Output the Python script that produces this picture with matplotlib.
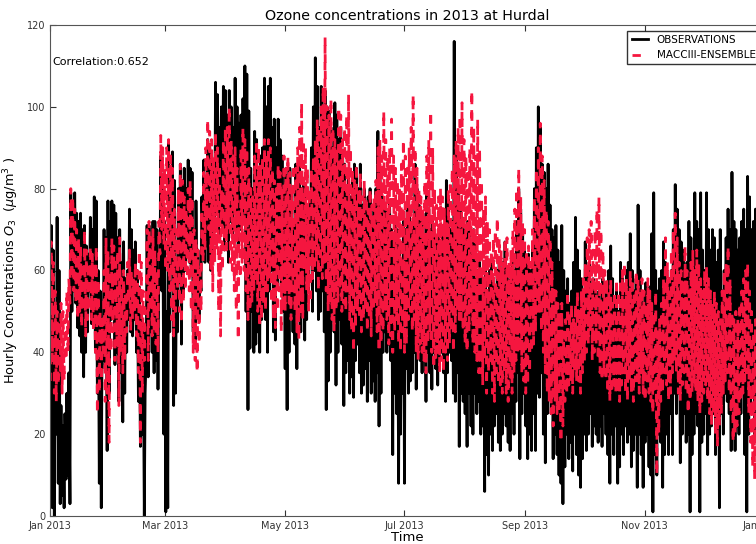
import matplotlib
matplotlib.use('Agg')
import matplotlib.pyplot as plt
import matplotlib.dates as mdates
import numpy as np
import pandas as pd

# daily maximum / minimum (ug/m3), one value per day of 2013
obs_hi = [71, 65, 45, 73, 60, 27, 22, 25, 30, 35,
          79, 76, 79, 74, 72, 74, 70, 71, 66, 64,
          73, 70, 78, 77, 60, 55, 45, 70, 68, 77,
          72, 77, 76, 74, 68, 70, 62, 67, 58, 60,
          75, 70, 65, 67, 60, 56, 50, 45, 30, 71,
          71, 68, 72, 72, 70, 60, 88, 80, 72, 50,
          91, 85, 89, 82, 60, 80, 86, 82, 85, 80,
          87, 85, 84, 70, 77, 65, 60, 78, 87, 82,
          92, 90, 88, 85, 106, 103, 95, 100, 105, 104,
          98, 104, 100, 95, 107, 100, 96, 98, 102, 110,
          108, 99, 85, 80, 94, 92, 85, 88, 90, 107,
          100, 105, 107, 95, 97, 90, 97, 92, 88, 80,
          85, 82, 85, 80, 72, 86, 84, 86, 80, 82,
          78, 75, 78, 90, 100, 112, 105, 95, 105, 100,
          104, 100, 99, 95, 90, 101, 98, 92, 95, 88,
          86, 80, 84, 78, 82, 86, 85, 80, 86, 76,
          80, 75, 78, 80, 72, 76, 80, 94, 85, 78,
          77, 75, 72, 77, 70, 68, 72, 70, 65, 60,
          72, 70, 77, 74, 70, 72, 86, 80, 76, 72,
          74, 68, 79, 75, 70, 72, 70, 68, 70, 66,
          70, 65, 82, 78, 70, 72, 116, 90, 80, 75,
          73, 70, 68, 72, 70, 65, 70, 68, 60, 62,
          60, 58, 62, 55, 60, 63, 58, 55, 60, 62,
          58, 62, 67, 60, 55, 58, 62, 60, 72, 80,
          75, 70, 66, 62, 64, 60, 66, 80, 90, 100,
          95, 86, 84, 80, 86, 76, 70, 68, 71, 65,
          62, 71, 60, 55, 58, 52, 55, 62, 73, 65,
          60, 58, 55, 67, 60, 62, 55, 58, 56, 50,
          55, 52, 58, 50, 56, 60, 66, 58, 52, 55,
          50, 62, 58, 55, 60, 62, 69, 60, 55, 58,
          76, 60, 55, 50, 57, 52, 56, 69, 79, 60,
          55, 58, 60, 67, 62, 55, 58, 60, 70, 81,
          75, 70, 67, 65, 60, 62, 72, 68, 60, 79,
          72, 70, 79, 65, 60, 79, 70, 65, 70, 68,
          62, 65, 70, 55, 60, 68, 75, 70, 84, 72,
          70, 65, 68, 72, 75, 70, 83, 78, 70, 72,
          75, 80, 70, 68, 72]
obs_lo = [35, 2, 0, 20, 8, 3, 5, 2, 9, 10,
          3, 50, 55, 52, 46, 44, 40, 34, 40, 45,
          55, 47, 47, 40, 30, 8, 2, 38, 36, 16,
          30, 48, 50, 37, 40, 28, 35, 23, 30, 40,
          48, 45, 44, 48, 40, 28, 17, 20, 0, 40,
          34, 45, 40, 35, 38, 31, 60, 55, 20, 1,
          2, 45, 60, 27, 30, 45, 57, 42, 55, 60,
          64, 62, 60, 45, 41, 50, 48, 55, 64, 62,
          66, 62, 60, 65, 70, 75, 68, 72, 70, 65,
          70, 62, 72, 68, 75, 70, 65, 70, 72, 80,
          50, 26, 41, 50, 40, 42, 45, 40, 48, 50,
          48, 40, 55, 60, 45, 43, 56, 60, 56, 50,
          36, 26, 40, 50, 45, 42, 36, 48, 45, 50,
          43, 48, 55, 62, 50, 60, 55, 48, 50, 55,
          45, 26, 33, 40, 50, 45, 32, 40, 48, 42,
          27, 35, 38, 30, 34, 29, 38, 42, 35, 30,
          32, 36, 28, 38, 30, 33, 28, 35, 22, 30,
          40, 45, 40, 42, 38, 15, 30, 25, 8, 20,
          30, 8, 36, 30, 33, 35, 40, 31, 40, 38,
          35, 40, 28, 40, 35, 31, 40, 36, 32, 38,
          40, 35, 28, 35, 40, 38, 30, 28, 35, 17,
          30, 28, 25, 17, 30, 22, 20, 30, 25, 28,
          20, 22, 6, 15, 10, 20, 16, 22, 25, 18,
          16, 20, 25, 22, 18, 16, 25, 20, 28, 35,
          14, 25, 30, 22, 14, 20, 16, 25, 16, 30,
          29, 35, 20, 13, 25, 30, 25, 14, 20, 15,
          10, 8, 3, 12, 20, 14, 18, 11, 20, 15,
          10, 7, 14, 20, 16, 20, 25, 17, 22, 20,
          18, 22, 17, 25, 20, 15, 8, 20, 15, 22,
          8, 12, 20, 15, 22, 18, 20, 12, 16, 20,
          7, 20, 15, 7, 18, 20, 12, 10, 1, 15,
          10, 20, 18, 7, 15, 20, 15, 25, 15, 30,
          25, 30, 13, 20, 25, 18, 20, 1, 15, 20,
          25, 22, 1, 18, 20, 25, 15, 20, 22, 25,
          15, 20, 2, 25, 20, 30, 28, 25, 16, 30,
          16, 22, 20, 25, 30, 15, 1, 20, 25, 30,
          20, 25, 30, 25, 28]

mod_hi = [67, 62, 55, 50, 48, 52, 50, 48, 55, 58,
          80, 78, 75, 70, 68, 66, 62, 70, 65, 62,
          66, 64, 62, 66, 58, 50, 48, 60, 68, 65,
          60, 68, 66, 62, 65, 68, 58, 60, 55, 62,
          65, 60, 58, 62, 60, 65, 62, 55, 52, 70,
          72, 68, 70, 65, 60, 72, 93, 90, 85, 90,
          92, 88, 85, 75, 70, 80, 86, 82, 78, 75,
          80, 82, 78, 70, 68, 65, 60, 75, 84, 90,
          97, 94, 92, 88, 94, 90, 86, 80, 92, 95,
          95, 100, 92, 88, 90, 85, 75, 90, 95, 92,
          90, 85, 80, 78, 88, 92, 90, 86, 88, 92,
          88, 92, 90, 85, 82, 80, 86, 84, 80, 88,
          85, 88, 84, 80, 86, 85, 90, 95, 101, 92,
          90, 85, 80, 85, 88, 92, 97, 95, 100, 105,
          117, 100, 98, 102, 95, 92, 90, 100, 98, 92,
          95, 98, 103, 90, 85, 82, 86, 80, 84, 78,
          82, 78, 75, 80, 76, 78, 82, 90, 92, 88,
          99, 92, 88, 90, 97, 88, 85, 82, 80, 86,
          92, 88, 85, 90, 95, 103, 90, 85, 80, 78,
          75, 82, 88, 92, 99, 90, 80, 76, 78, 80,
          78, 75, 72, 80, 82, 85, 88, 92, 95, 98,
          101, 92, 88, 85, 90, 104, 95, 88, 97, 90,
          82, 75, 78, 72, 70, 65, 68, 70, 73, 68,
          65, 62, 68, 68, 62, 65, 70, 75, 80, 85,
          78, 72, 70, 65, 66, 62, 70, 78, 85, 90,
          96, 88, 82, 75, 72, 68, 62, 56, 55, 52,
          50, 52, 45, 48, 55, 50, 52, 48, 52, 55,
          50, 55, 58, 62, 68, 70, 72, 65, 70, 75,
          78, 70, 65, 60, 58, 55, 58, 52, 55, 58,
          55, 58, 60, 62, 58, 55, 60, 58, 55, 60,
          58, 55, 58, 55, 52, 58, 55, 52, 50, 55,
          45, 48, 52, 58, 68, 62, 58, 65, 70, 74,
          68, 62, 60, 58, 66, 60, 55, 62, 65, 60,
          65, 62, 58, 55, 60, 61, 58, 55, 52, 55,
          52, 50, 48, 55, 60, 62, 66, 58, 50, 48,
          50, 48, 52, 55, 58, 60, 62, 55, 50, 45,
          48, 50, 55, 52, 50]
mod_lo = [33, 38, 30, 28, 32, 35, 30, 33, 38, 40,
          52, 58, 55, 52, 48, 50, 46, 50, 44, 48,
          50, 48, 45, 40, 25, 30, 33, 40, 28, 30,
          18, 40, 45, 38, 42, 27, 40, 35, 38, 45,
          52, 45, 48, 50, 44, 35, 18, 30, 38, 52,
          38, 50, 44, 45, 42, 40, 64, 70, 66, 60,
          60, 55, 48, 44, 50, 55, 50, 47, 52, 55,
          58, 55, 50, 40, 38, 35, 42, 50, 62, 65,
          72, 70, 60, 55, 62, 65, 50, 44, 60, 65,
          65, 70, 62, 60, 55, 50, 43, 58, 62, 60,
          55, 48, 50, 52, 55, 58, 50, 46, 48, 52,
          50, 55, 58, 52, 48, 46, 50, 55, 45, 50,
          50, 55, 52, 48, 55, 50, 45, 43, 50, 48,
          60, 55, 50, 52, 58, 60, 62, 55, 60, 58,
          62, 55, 50, 52, 48, 45, 50, 52, 55, 50,
          52, 50, 55, 48, 45, 40, 46, 50, 48, 45,
          48, 50, 45, 48, 44, 50, 52, 45, 40, 42,
          45, 50, 48, 42, 44, 40, 45, 48, 42, 40,
          45, 40, 42, 48, 50, 45, 48, 40, 38, 42,
          40, 38, 35, 42, 45, 40, 36, 38, 40, 35,
          38, 35, 40, 38, 42, 45, 40, 45, 50, 48,
          48, 45, 42, 40, 45, 50, 42, 40, 38, 35,
          35, 32, 38, 30, 35, 38, 30, 28, 35, 32,
          32, 30, 35, 30, 28, 33, 30, 35, 38, 40,
          40, 35, 33, 30, 32, 35, 40, 42, 45, 50,
          50, 45, 40, 35, 30, 28, 25, 22, 28, 25,
          25, 18, 22, 28, 30, 32, 33, 30, 35, 33,
          33, 30, 35, 38, 40, 42, 45, 38, 40, 42,
          38, 35, 33, 35, 33, 30, 28, 30, 32, 30,
          30, 28, 32, 35, 30, 28, 33, 30, 28, 33,
          33, 30, 35, 30, 28, 33, 30, 28, 25, 30,
          10, 20, 28, 30, 35, 32, 28, 30, 35, 38,
          35, 30, 28, 32, 35, 30, 25, 28, 30, 32,
          30, 28, 25, 28, 30, 32, 28, 25, 22, 25,
          20, 17, 22, 25, 30, 33, 35, 30, 25, 18,
          20, 22, 25, 28, 30, 33, 35, 25, 18, 12,
          9, 15, 25, 28, 30]

corr_text = 'Correlation:0.652'

# night minimum at 05h, afternoon maximum at 15h
days = pd.date_range('2013-01-01', periods=len(obs_hi), freq='D')
t_lo = days + pd.Timedelta(hours=5)
t_hi = days + pd.Timedelta(hours=15)
times = np.empty(2 * len(days), dtype='datetime64[ns]')
times[0::2] = t_lo.values
times[1::2] = t_hi.values

obs = np.empty(2 * len(days))
obs[0::2] = obs_lo
obs[1::2] = obs_hi
mod = np.empty(2 * len(days))
mod[0::2] = mod_lo
mod[1::2] = mod_hi

fig = plt.figure(figsize=(7.56, 5.44), dpi=100)
# axes run slightly past the right edge of the picture, like the original
ax = fig.add_axes([50 / 756., 28 / 544., 714 / 756., 491 / 544.])

ax.plot(times, obs, '-', color='black', lw=2, label='OBSERVATIONS')
ax.plot(times, mod, color='#f5163f', lw=2, linestyle=(0, (3, 3)), label='MACCIII-ENSEMBLE')

ax.set_xlim(pd.Timestamp('2013-01-01'), pd.Timestamp('2014-01-01'))
ax.set_ylim(0, 120)
ax.xaxis.set_major_locator(mdates.MonthLocator(bymonth=[1, 3, 5, 7, 9, 11]))
ax.xaxis.set_major_formatter(mdates.DateFormatter('%b %Y'))
ax.tick_params(direction='in', top=True, right=True, labelsize=7, length=4, colors='#333333')
for s in ax.spines.values():
    s.set_color('#555555')

ax.set_title('Ozone concentrations in 2013 at Hurdal', fontsize=10.3, pad=3.5)
ax.set_xlabel('Time', fontsize=9.5, labelpad=0)
ax.set_ylabel('Hourly Concentrations $O_3$  ($\\mu$g/m$^3$ )', fontsize=9.3)
ax.text(0.004, 0.925, corr_text, transform=ax.transAxes, fontsize=8, va='center')
leg = ax.legend(loc='upper right', bbox_to_anchor=(0.994, 0.988), borderaxespad=0,
                fontsize=7.5, fancybox=False, handlelength=1.6)
leg.get_frame().set_edgecolor('black')

fig.savefig('out.png', dpi=100)
